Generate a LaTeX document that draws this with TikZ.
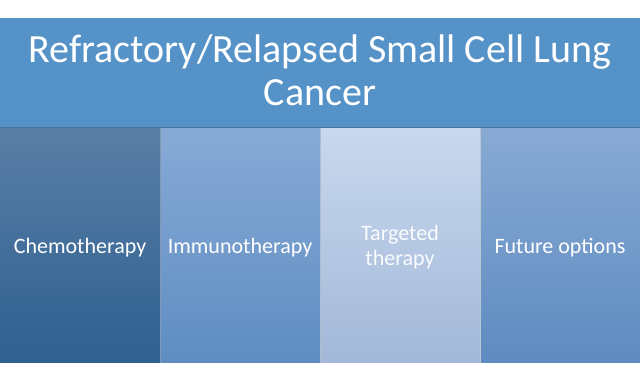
\documentclass[tikz,border=0pt]{standalone}
\usepackage{fontspec}
\setmainfont{Carlito}
\definecolor{hdr}{HTML}{5592C8}
\definecolor{cAt}{HTML}{5A7EA6}\definecolor{cAb}{HTML}{2E6090}
\definecolor{cBt}{HTML}{88AAD6}\definecolor{cBb}{HTML}{5E8DC2}
\definecolor{cCt}{HTML}{C8D8EE}\definecolor{cCb}{HTML}{A3B8D8}
\definecolor{cDt}{HTML}{88AAD4}\definecolor{cDb}{HTML}{5E8BC0}
\definecolor{sep}{HTML}{4A6E96}
\begin{document}
\begin{tikzpicture}[x=1pt,y=1pt,
  colbox/.style={rectangle, inner sep=0pt, minimum width=160pt, minimum height=235pt, anchor=south west},
  header/.style={rectangle, inner sep=0pt, minimum width=640pt, minimum height=109pt, anchor=south west, fill=hdr},
  titletext/.style={text=white, font=\fontsize{40}{43}\selectfont, anchor=base, inner sep=0pt},
  coltext/.style={text=white, font=\fontsize{22}{25}\selectfont, anchor=base, inner sep=0pt}]
\useasboundingbox (0,0) rectangle (640,384);
\fill[white] (0,0) rectangle (640,384);
\node[header] (h) at (0,257) {};
\node[titletext] (title1) at (320,322) {Refractory/Relapsed Small Cell Lung};
\node[titletext] (title2) at (320,279) {Cancer};
\node[colbox, top color=cAt, bottom color=cAb] (c1) at (0,21) {};
\node[colbox, top color=cBt, bottom color=cBb] (c2) at (160,21) {};
\node[colbox, top color=cCt, bottom color=cCb] (c3) at (320,21) {};
\node[colbox, top color=cDt, bottom color=cDb] (c4) at (480,21) {};
\draw[sep!70, line width=1.4pt] (c1.north east) -- (c1.south east);
\draw[sep!45, line width=1pt] (c2.north east) -- (c2.south east);
\draw[sep!40, line width=1pt] (c3.north east) -- (c3.south east);
\draw[hdr!80!black, line width=0.8pt] (h.south west) -- (h.south east);
\node[coltext] (t1) at (80,131) {Chemotherapy};
\node[coltext] (t2) at (240,131) {Immunotherapy};
\node[coltext, text=white!92!cCt] (t3a) at (400,144) {Targeted};
\node[coltext, text=white!92!cCt] (t3b) at (400,119) {therapy};
\node[coltext] (t4) at (560,131) {Future options};
\end{tikzpicture}
\end{document}
